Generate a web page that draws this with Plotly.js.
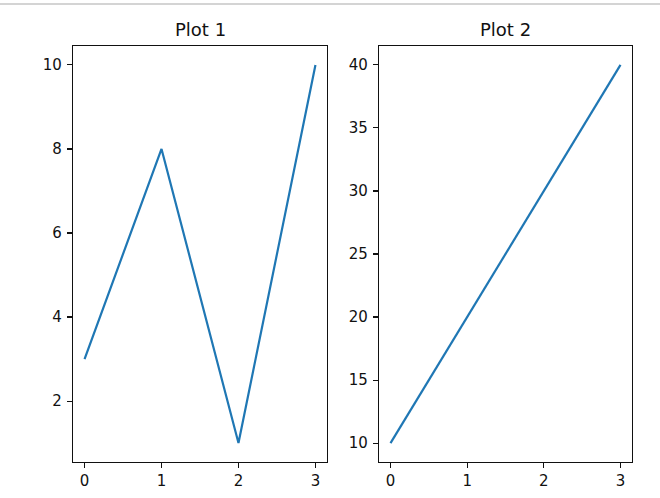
<!DOCTYPE html>
<html>
<head>
<meta charset="utf-8">
<script src="https://cdn.plot.ly/plotly-3.0.1.min.js"></script>
<style>
html,body{margin:0;padding:0;background:#fff;}
#topline{position:absolute;left:0;top:3px;width:660px;height:2px;background:#d4d4d4;}
#chart{width:660px;height:498px;}
</style>
</head>
<body>
<div id="topline"></div>
<div id="chart"></div>
<script>
const x1 = [0, 1, 2, 3];
const y1 = [3, 8, 1, 10];
const x2 = [0, 1, 2, 3];
const y2 = [10, 20, 30, 40];
const titles = ["Plot 1", "Plot 2"];

const W = 660, H = 498;
const d1 = [73 / W, 327 / W];
const d2 = [379 / W, 632 / W];
const dy = [1 - 462 / H, 1 - 46 / H];

function pad(arr) {
  const mn = Math.min(...arr), mx = Math.max(...arr);
  const m = (mx - mn) * 0.05;
  return [mn - m, mx + m];
}

const axisCommon = {
  showline: true, mirror: true, linecolor: '#111', linewidth: 1.1,
  ticks: 'outside', ticklen: 5, tickwidth: 1.1, tickcolor: '#111',
  showgrid: false, zeroline: false,
  tickfont: {family: 'DejaVu Sans', size: 15, color: '#111'},
  fixedrange: true
};

const traces = [
  {x: x1, y: y1, xaxis: 'x', yaxis: 'y', mode: 'lines', line: {color: '#1f77b4', width: 2.2}, hoverinfo: 'none'},
  {x: x2, y: y2, xaxis: 'x2', yaxis: 'y2', mode: 'lines', line: {color: '#1f77b4', width: 2.2}, hoverinfo: 'none'}
];

const layout = {
  width: W, height: H,
  margin: {l: 0, r: 0, t: 0, b: 0},
  paper_bgcolor: 'rgba(0,0,0,0)', plot_bgcolor: '#fff',
  showlegend: false,
  xaxis: Object.assign({}, axisCommon, {domain: d1, range: pad(x1), tickmode: 'linear', tick0: 0, dtick: 1, anchor: 'y'}),
  yaxis: Object.assign({}, axisCommon, {domain: dy, range: pad(y1), tickmode: 'linear', tick0: 0, dtick: 2, anchor: 'x', ticklabelstandoff: 2}),
  xaxis2: Object.assign({}, axisCommon, {domain: d2, range: pad(x2), tickmode: 'linear', tick0: 0, dtick: 1, anchor: 'y2'}),
  yaxis2: Object.assign({}, axisCommon, {domain: dy, range: pad(y2), tickmode: 'linear', tick0: 0, dtick: 5, anchor: 'x2', ticklabelstandoff: 2}),
  annotations: [
    {text: titles[0], xref: 'paper', yref: 'paper', x: (d1[0] + d1[1]) / 2, y: dy[1], xanchor: 'center', yanchor: 'bottom', yshift: 4, showarrow: false, font: {family: 'DejaVu Sans', size: 18, color: '#111'}},
    {text: titles[1], xref: 'paper', yref: 'paper', x: (d2[0] + d2[1]) / 2, y: dy[1], xanchor: 'center', yanchor: 'bottom', yshift: 4, showarrow: false, font: {family: 'DejaVu Sans', size: 18, color: '#111'}}
  ]
};

Plotly.newPlot('chart', traces, layout, {staticPlot: true, displayModeBar: false});
</script>
</body>
</html>
